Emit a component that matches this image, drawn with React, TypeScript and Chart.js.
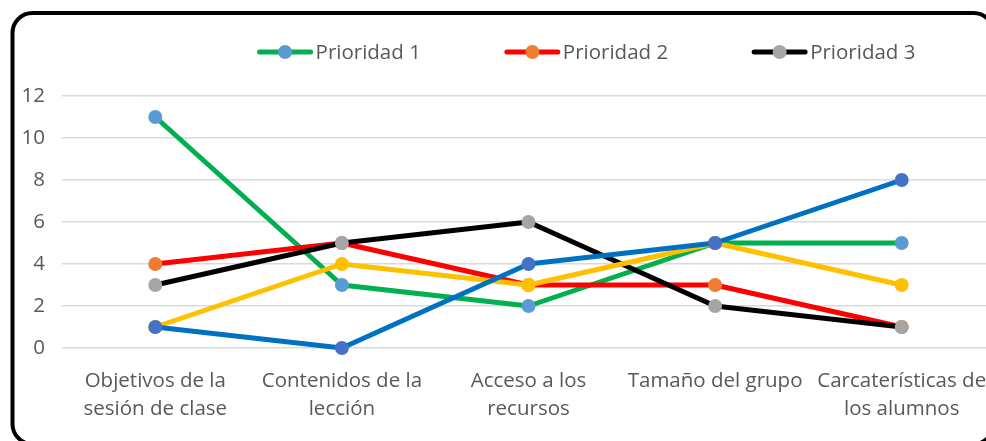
import React, { useEffect, useRef } from "react";
import { Chart, registerables } from "chart.js";

Chart.register(...registerables);

const categories: (string | string[])[] = [
  ["Objetivos de la", "sesión de clase"],
  ["Contenidos de la", "lección"],
  ["Acceso a los", "recursos"],
  "Tamaño del grupo",
  ["Carcaterísticas de", "los alumnos"],
];

const prioridad1 = [11, 3, 2, 5, 5];
const prioridad2 = [4, 5, 3, 3, 1];
const prioridad3 = [3, 5, 6, 2, 1];
const serieAmarilla = [1, 4, 3, 5, 3];
const serieAzul = [1, 0, 4, 5, 8];

const seriesLabels = ["Prioridad 1", "Prioridad 2", "Prioridad 3", "", ""];
const yTicks = { min: 0, max: 12, step: 2 };

const FONT = "'Open Sans', 'Noto Sans', sans-serif";
const TEXT = "#595959";

const framePlugin = {
  id: "frame",
  beforeDraw(chart: any) {
    const ctx = chart.ctx;
    ctx.save();
    ctx.fillStyle = "#ffffff";
    ctx.fillRect(0, 0, chart.width, chart.height);
    ctx.beginPath();
    ctx.lineWidth = 4;
    ctx.strokeStyle = "#000000";
    (ctx as any).roundRect(12.5, 13, 981, 431, 20);
    ctx.stroke();
    ctx.restore();
  },
};

const legendPlugin = {
  id: "customLegend",
  afterDraw(chart: any) {
    const ctx = chart.ctx;
    const ds = chart.data.datasets.slice(0, 3);
    ctx.save();
    ctx.font = `20.5px ${FONT}`;
    const lineLen = 55;
    const textGap = 3;
    const itemGap = 84;
    const widths = ds.map((d: any) => lineLen + textGap + ctx.measureText(d.label).width);
    const total = widths.reduce((a: number, b: number) => a + b, 0) + itemGap * (ds.length - 1);
    let x = 586.5 - total / 2;
    const y = 52;
    ds.forEach((d: any, i: number) => {
      ctx.beginPath();
      ctx.strokeStyle = d.borderColor;
      ctx.lineWidth = 5;
      ctx.lineCap = "round";
      ctx.moveTo(x + 2, y);
      ctx.lineTo(x + lineLen - 2, y);
      ctx.stroke();
      ctx.beginPath();
      ctx.fillStyle = d.pointBackgroundColor;
      ctx.arc(x + lineLen / 2, y, 7, 0, Math.PI * 2);
      ctx.fill();
      ctx.fillStyle = TEXT;
      ctx.textBaseline = "middle";
      ctx.textAlign = "left";
      ctx.fillText(d.label, x + lineLen + textGap, y + 1);
      x += widths[i] + itemGap;
    });
    ctx.restore();
  },
};

function mk(label: string, data: number[], line: string, point: string, order: number) {
  return {
    label,
    data,
    borderColor: line,
    backgroundColor: point,
    pointBackgroundColor: point,
    pointBorderColor: point,
    pointBorderWidth: 0,
    pointRadius: 7,
    pointHoverRadius: 7,
    borderWidth: 5,
    borderJoinStyle: "round" as const,
    borderCapStyle: "round" as const,
    tension: 0,
    clip: false as const,
    order,
  };
}

export default function App() {
  const ref = useRef<HTMLCanvasElement>(null);
  useEffect(() => {
    if (!ref.current) return;
    const chart = new Chart(ref.current, {
      type: "line",
      data: {
        labels: categories,
        datasets: [
          mk(seriesLabels[0], prioridad1, "#00B050", "#5B9BD5", 5),
          mk(seriesLabels[1], prioridad2, "#FF0000", "#ED7D31", 4),
          mk(seriesLabels[2], prioridad3, "#000000", "#A5A5A5", 3),
          mk(seriesLabels[3], serieAmarilla, "#FFC000", "#FFC000", 2),
          mk(seriesLabels[4], serieAzul, "#0070C0", "#4472C4", 1),
        ],
      },
      options: {
        responsive: false,
        animation: false,
        devicePixelRatio: 1,
        layout: { padding: { top: 96, left: 0, right: 15, bottom: 0 } },
        plugins: {
          legend: { display: false },
          tooltip: { enabled: false },
        },
        scales: {
          x: {
            offset: true,
            grid: { display: false, drawTicks: false },
            border: { display: false },
            ticks: {
              autoSkip: false,
              maxRotation: 0,
              minRotation: 0,
              padding: 19,
              color: TEXT,
              font: { family: FONT, size: 20.5, lineHeight: 28 / 20.5 },
            },
            afterFit(scale: any) {
              scale.height = 112;
            },
          },
          y: {
            min: yTicks.min,
            max: yTicks.max,
            grid: { color: "#D9D9D9", lineWidth: 1.5, drawTicks: false },
            border: { display: false },
            ticks: {
              stepSize: yTicks.step,
              padding: 17,
              color: TEXT,
              font: { family: FONT, size: 20.5 },
            },
            afterFit(scale: any) {
              scale.width = 62;
            },
          },
        },
      },
      plugins: [framePlugin, legendPlugin],
    });
    return () => chart.destroy();
  }, []);
  return (
    <div style={{ position: "fixed", left: 0, top: 0, width: 986, height: 441, overflow: "hidden", background: "#fff" }}>
      <canvas ref={ref} width={1010} height={460} style={{ width: 1010, height: 460, display: "block" }} />
    </div>
  );
}
